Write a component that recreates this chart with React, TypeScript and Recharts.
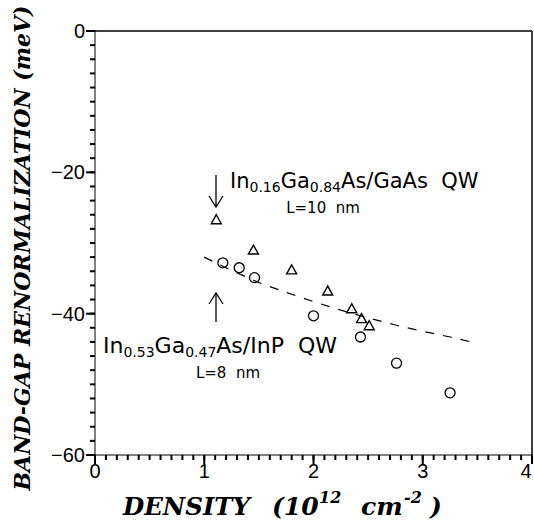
import { ScatterChart, Scatter, XAxis, YAxis, Customized } from "recharts";

// In0.16Ga0.84As/GaAs QW (triangles)
const gaAsWell = [
  { x: 1.11, y: -26.7 },
  { x: 1.45, y: -31.0 },
  { x: 1.8, y: -33.8 },
  { x: 2.13, y: -36.8 },
  { x: 2.35, y: -39.3 },
  { x: 2.44, y: -40.7 },
  { x: 2.51, y: -41.7 },
];

// In0.53Ga0.47As/InP QW (circles)
const inPWell = [
  { x: 1.17, y: -32.8 },
  { x: 1.32, y: -33.5 },
  { x: 1.46, y: -34.9 },
  { x: 2.0, y: -40.3 },
  { x: 2.43, y: -43.3 },
  { x: 2.76, y: -47.0 },
  { x: 3.25, y: -51.2 },
];

// dashed theory curve
const fitDensity = [1.0, 1.25, 1.5, 1.75, 2.0, 2.25, 2.5, 2.75, 3.0, 3.25, 3.5];
const fitShift = [-32.0, -33.9, -35.6, -37.0, -38.3, -39.5, -40.6, -41.6, -42.5, -43.3, -44.2];
const fitLine = fitDensity.map((x, i) => ({ x, y: fitShift[i] }));

const xTicks = Array.from({ length: 41 }, (_, i) => i / 10);
const yTicks = Array.from({ length: 31 }, (_, i) => -60 + i * 2);
const xLabels = [0, 1, 2, 3, 4];
const yLabels = [-60, -40, -20, 0];

const TICK_FONT = "Liberation Sans";
const NOTE_FONT = "DejaVu Sans";
const TITLE_FONT = "DejaVu Serif";
const MINOR = 5;
const MARGIN = 2;
const TICK_W = 2;

const isMajorX = (v: number) => xLabels.some((m) => Math.abs(m - v) < 1e-6);

// built-in tickLine draws the short stub; this adds the longer major stub and label
const XTick = (props: any) => {
  const { x, y, payload } = props;
  const v = payload.value;
  if (!isMajorX(v)) return <g />;
  const axisY = Number(y) - MINOR - MARGIN;
  return (
    <g>
      <line x1={x} x2={x} y1={axisY} y2={axisY + 9} stroke="#000" strokeWidth={TICK_W} />
      <text x={Math.min(Number(x), 526)} y={axisY + 23} textAnchor="middle" fontFamily={TICK_FONT} fontSize={20} fill="#000">
        {v}
      </text>
    </g>
  );
};

const YTick = (props: any) => {
  const { x, y, payload } = props;
  const v = payload.value;
  if (!yLabels.includes(v)) return <g />;
  const axisX = Number(x) + MINOR + MARGIN;
  return (
    <g>
      <line x1={axisX} x2={axisX - 9} y1={y} y2={y} stroke="#000" strokeWidth={TICK_W} />
      <text x={axisX - 10} y={Number(y) + 7} textAnchor="end" fontFamily={TICK_FONT} fontSize={20} fill="#000">
        {v === 0 ? "0" : "\u2212" + Math.abs(v)}
      </text>
    </g>
  );
};

const Triangle = (props: any) => {
  const { cx, cy } = props;
  return (
    <polygon
      points={`${cx},${cy - 5} ${cx - 5},${cy + 4} ${cx + 5},${cy + 4}`}
      fill="none"
      stroke="#000"
      strokeWidth={1.4}
    />
  );
};

const Circle = (props: any) => {
  const { cx, cy } = props;
  return <circle cx={cx} cy={cy} r={5} fill="none" stroke="#000" strokeWidth={1.3} />;
};

const Overlay = () => (
  <g>
    {/* frame top and right */}
    <line x1={95} x2={532} y1={31} y2={31} stroke="#000" strokeWidth={1.5} />
    <line x1={532} x2={532} y1={31} y2={455} stroke="#000" strokeWidth={1.5} />

    {/* arrows */}
    <line x1={216} x2={216} y1={175} y2={207} stroke="#000" strokeWidth={1.3} />
    <polyline points="209,196 216,207 223,196" fill="none" stroke="#000" strokeWidth={1.3} />
    <line x1={216} x2={216} y1={293} y2={322} stroke="#000" strokeWidth={1.3} />
    <polyline points="209,304 216,293 223,304" fill="none" stroke="#000" strokeWidth={1.3} />

    <text x={230} y={188} fontFamily={NOTE_FONT} fontSize={21} fill="#000">
      In<tspan fontSize={14} dy={4}>0.16</tspan>
      <tspan dy={-4}>Ga</tspan>
      <tspan fontSize={14} dy={4}>0.84</tspan>
      <tspan dy={-4}>As/GaAs{"\u00a0\u00a0"}QW</tspan>
    </text>
    <text x={323} y={213} textAnchor="middle" fontFamily={NOTE_FONT} fontSize={15} fill="#000">
      L=10{"\u00a0\u00a0"}nm
    </text>

    <text x={103} y={353} fontFamily={NOTE_FONT} fontSize={22} fill="#000">
      In<tspan fontSize={14} dy={4}>0.53</tspan>
      <tspan dy={-4}>Ga</tspan>
      <tspan fontSize={14} dy={4}>0.47</tspan>
      <tspan dy={-4}>As/InP{"\u00a0\u00a0"}QW</tspan>
    </text>
    <text x={228} y={378} textAnchor="middle" fontFamily={NOTE_FONT} fontSize={15} fill="#000">
      L=8{"\u00a0\u00a0"}nm
    </text>

    {/* axis titles */}
    <text
      x={30}
      y={248}
      transform="rotate(-90, 30, 248)"
      textAnchor="middle"
      fontFamily={TITLE_FONT}
      fontStyle="italic"
      fontWeight="bold"
      fontSize={22}
      fill="#000"
      textLength={485}
      lengthAdjust="spacingAndGlyphs"
    >
      BAND-GAP RENORMALIZATION (meV)
    </text>
    <g fontFamily={TITLE_FONT} fontStyle="italic" fontWeight="bold" fill="#000">
      <text x={123} y={515} fontSize={25} textLength={127} lengthAdjust="spacingAndGlyphs">
        DENSITY
      </text>
      <text x={272} y={515} fontSize={25}>
        (10
      </text>
      <text x={319} y={503} fontSize={16}>
        12
      </text>
      <text x={361} y={515} fontSize={25}>
        cm
      </text>
      <text x={404} y={503} fontSize={16}>
        -2
      </text>
      <text x={430} y={515} fontSize={25}>
        )
      </text>
    </g>
  </g>
);

export default function App() {
  return (
    <div style={{ position: "absolute", left: 0, top: 0, background: "#fff" }}>
      <ScatterChart width={534} height={525} margin={{ top: 31, right: 2, bottom: 0, left: 0 }}>
        <XAxis
          type="number"
          dataKey="x"
          domain={[0, 4]}
          ticks={xTicks}
          interval={0}
          stroke="#000"
          tickLine={{ stroke: "#000", strokeWidth: TICK_W }}
          tickSize={MINOR}
          tickMargin={MARGIN}
          height={70}
          tick={XTick}
        />
        <YAxis
          type="number"
          dataKey="y"
          domain={[-60, 0]}
          ticks={yTicks}
          interval={0}
          stroke="#000"
          tickLine={{ stroke: "#000", strokeWidth: TICK_W }}
          tickSize={MINOR}
          tickMargin={MARGIN}
          width={95}
          tick={YTick}
        />
        <Scatter
          data={fitLine}
          line={{ stroke: "#000", strokeWidth: 1.2, strokeDasharray: "9 9" }}
          lineType="joint"
          shape={() => <g />}
          isAnimationActive={false}
        />
        <Scatter data={gaAsWell} shape={<Triangle />} isAnimationActive={false} />
        <Scatter data={inPWell} shape={<Circle />} isAnimationActive={false} />
        <Customized component={Overlay} />
      </ScatterChart>
    </div>
  );
}
